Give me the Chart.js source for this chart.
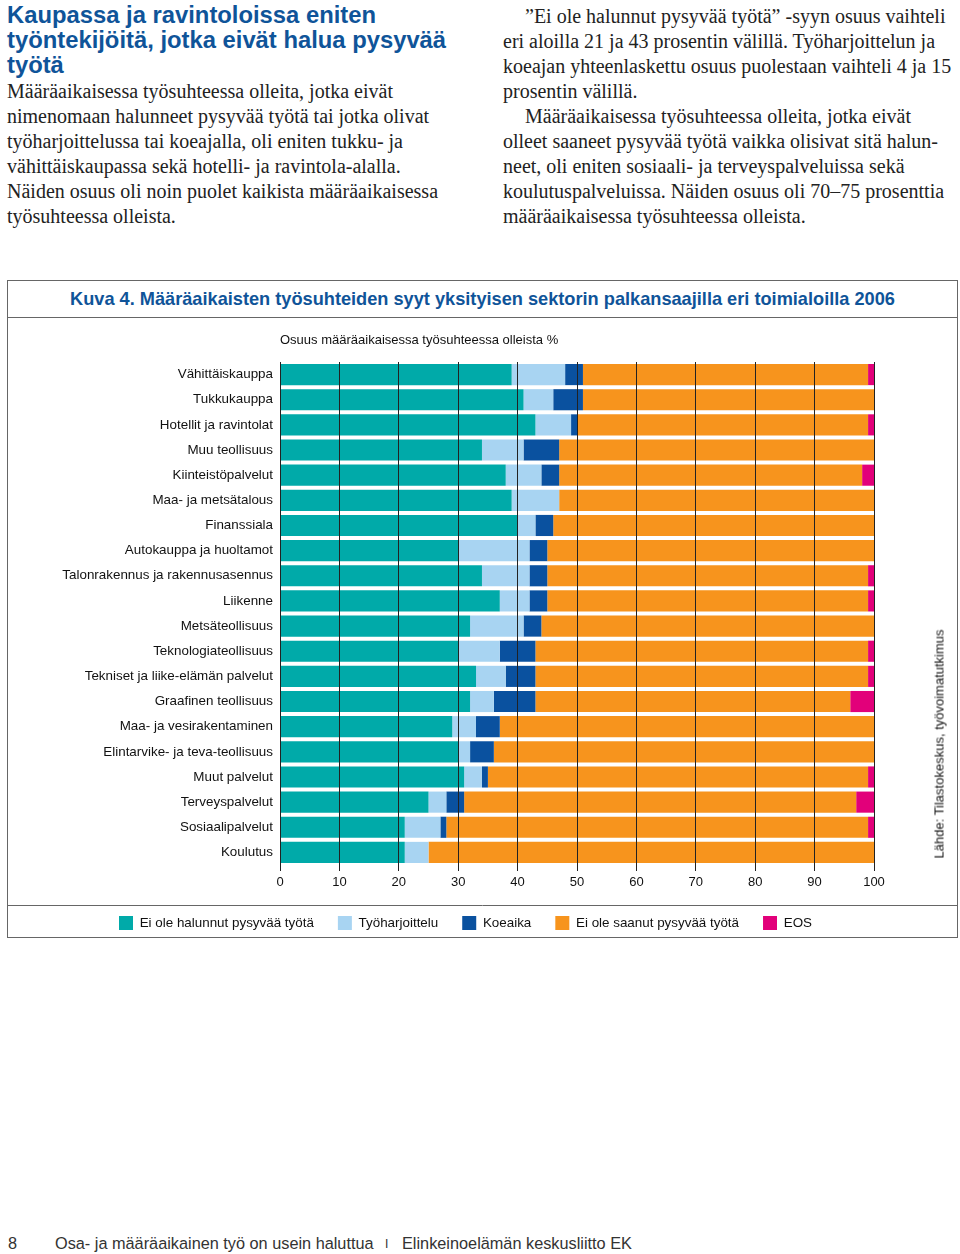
<!DOCTYPE html>
<html lang="fi">
<head>
<meta charset="utf-8">
<title>Kuva 4</title>
<script src="https://cdn.jsdelivr.net/npm/chart.js@4/dist/chart.umd.min.js"></script>
<style>
  body { margin: 0; width: 960px; height: 1254px; background: #fff; position: relative;
         font-family: "Liberation Sans", Arial, sans-serif; color: #222; }
  .otsikko { position: absolute; left: 7px; top: 2px; width: 480px; font-weight: bold;
             font-size: 23.8px; line-height: 25px; color: #0f5499; margin: 0; }
  .leipa { position: absolute; font-family: "Liberation Serif", "Times New Roman", serif;
           font-size: 20px; line-height: 25px; color: #222; margin: 0; white-space: nowrap; }
  .sisennys { display: inline-block; width: 22px; }
  .kehys { position: absolute; left: 7px; top: 280px; width: 951px; height: 658px;
           box-sizing: border-box; border: 1px solid #666; }
  .kuvaotsikko { height: 36px; border-bottom: 1px solid #666; text-align: center;
                 font-weight: bold; font-size: 18.2px; line-height: 36px; color: #0f5499; }
  .kaavio { position: relative; width: 949px; height: 622px; }
  .lahde { position: absolute; left: 939px; top: 744px; transform: translate(-50%, -50%) rotate(-90deg);
           font-size: 13px; white-space: nowrap; color: #111; }
  .ala { position: absolute; top: 1234px; font-size: 16.3px; color: #333; white-space: nowrap; }
</style>
</head>
<body>

<h1 class="otsikko">Kaupassa ja ravintoloissa eniten<br>työntekijöitä, jotka eivät halua pysyvää<br>työtä</h1>
<p class="leipa" style="left:7px; top:79px;">Määräaikaisessa työsuhteessa olleita, jotka eivät<br>nimenomaan halunneet pysyvää työtä tai jotka olivat<br>työharjoittelussa tai koeajalla, oli eniten tukku- ja<br>vähittäiskaupassa sekä hotelli- ja ravintola-alalla.<br>Näiden osuus oli noin puolet kaikista määräaikaisessa<br>työsuhteessa olleista.</p>
<p class="leipa" style="left:503px; top:4px;"><span class="sisennys"></span>”Ei ole halunnut pysyvää työtä” -syyn osuus vaihteli<br>eri aloilla 21 ja 43 prosentin välillä. Työharjoittelun ja<br>koeajan yhteenlaskettu osuus puolestaan vaihteli 4 ja 15<br>prosentin välillä.<br><span class="sisennys"></span>Määräaikaisessa työsuhteessa olleita, jotka eivät<br>olleet saaneet pysyvää työtä vaikka olisivat sitä halun-<br>neet, oli eniten sosiaali- ja terveyspalveluissa sekä<br>koulutuspalveluissa. Näiden osuus oli 70–75 prosenttia<br>määräaikaisessa työsuhteessa olleista.</p>

<div class="kehys">
  <div class="kuvaotsikko">Kuva 4. Määräaikaisten työsuhteiden syyt yksityisen sektorin palkansaajilla eri toimialoilla 2006</div>
  <div class="kaavio"><canvas id="syyt"></canvas></div>
</div>
<div class="lahde">Lähde: Tilastokeskus, työvoimatutkimus</div>

<div class="ala" style="left:8px;">8</div>
<div class="ala" style="left:55px;">Osa- ja määräaikainen työ on usein haluttua</div>
<div class="ala" style="left:385px; font-size:12px; top:1237px;">I</div>
<div class="ala" style="left:402px;">Elinkeinoelämän keskusliitto EK</div>

<script>
// Toimialat ylhäältä alas
const toimialat = [
  'Vähittäiskauppa', 'Tukkukauppa', 'Hotellit ja ravintolat', 'Muu teollisuus',
  'Kiinteistöpalvelut', 'Maa- ja metsätalous', 'Finanssiala', 'Autokauppa ja huoltamot',
  'Talonrakennus ja rakennusasennus', 'Liikenne', 'Metsäteollisuus', 'Teknologiateollisuus',
  'Tekniset ja liike-elämän palvelut', 'Graafinen teollisuus', 'Maa- ja vesirakentaminen',
  'Elintarvike- ja teva-teollisuus', 'Muut palvelut', 'Terveyspalvelut', 'Sosiaalipalvelut', 'Koulutus'
];

// Osuudet, % (luettu kuvasta)
const eiHalunnut     = [39, 41, 43, 34, 38, 39, 40, 30, 34, 37, 32, 30, 33, 32, 29, 30, 31, 25, 21, 21];
const tyoharjoittelu = [ 9,  5,  6,  7,  6,  8,  3, 12,  8,  5,  9,  7,  5,  4,  4,  2,  3,  3,  6,  4];
const koeaika        = [ 3,  5,  1,  6,  3,  0,  3,  3,  3,  3,  3,  6,  5,  7,  4,  4,  1,  3,  1,  0];
const eiSaanut       = [48, 49, 49, 53, 51, 53, 54, 55, 54, 54, 56, 56, 56, 53, 63, 64, 64, 66, 71, 75];
const eos            = [ 1,  0,  1,  0,  2,  0,  0,  0,  1,  1,  0,  1,  1,  4,  0,  0,  1,  3,  1,  0];

const xTikit = [0, 10, 20, 30, 40, 50, 60, 70, 80, 90, 100];

const sarjat = [
  { label: 'Ei ole halunnut pysyvää työtä', data: eiHalunnut, color: '#00aaa9' },
  { label: 'Työharjoittelu', data: tyoharjoittelu, color: '#a8d4f2' },
  { label: 'Koeaika', data: koeaika, color: '#0a519f' },
  { label: 'Ei ole saanut pysyvää työtä', data: eiSaanut, color: '#f7941d' },
  { label: 'EOS', data: eos, color: '#e2007a' }
];

const fontti = '"Liberation Sans", Arial, sans-serif';

// Akselin otsikko ylös ja viiva selitteen yläpuolelle
const lisat = {
  id: 'lisat',
  afterDraw(chart) {
    const { ctx, chartArea, legend } = chart;
    ctx.save();
    ctx.font = '13px ' + fontti;
    ctx.fillStyle = '#111';
    ctx.textBaseline = 'middle';
    ctx.fillText('Osuus määräaikaisessa työsuhteessa olleista %', chartArea.left, 22);
    ctx.strokeStyle = '#666';
    ctx.lineWidth = 1;
    const y = Math.round(legend.top) + 13.5;
    ctx.beginPath();
    ctx.moveTo(0, y);
    ctx.lineTo(chart.width, y);
    ctx.stroke();
    ctx.restore();
  }
};

new Chart(document.getElementById('syyt'), {
  type: 'bar',
  data: {
    labels: toimialat,
    datasets: sarjat.map(s => ({
      label: s.label,
      data: s.data,
      backgroundColor: s.color,
      borderWidth: 0,
      barPercentage: 0.84,
      categoryPercentage: 1
    }))
  },
  options: {
    indexAxis: 'y',
    responsive: true,
    maintainAspectRatio: false,
    animation: false,
    layout: { padding: { top: 44, right: 34, left: 0, bottom: 0 } },
    scales: {
      x: {
        stacked: true,
        min: 0,
        max: 100,
        afterBuildTicks: scale => { scale.ticks = xTikit.map(v => ({ value: v })); },
        afterFit: scale => { scale.height = 27; },
        grid: { color: '#222', lineWidth: 1, z: 1, drawTicks: true, tickLength: 6 },
        border: { display: false },
        ticks: { color: '#111', padding: 4, font: { size: 13, family: fontti } }
      },
      y: {
        stacked: true,
        afterFit: scale => { scale.width = 272; },
        grid: { display: false, drawTicks: false },
        border: { display: false },
        ticks: { color: '#111', padding: 7, font: { size: 13.4, family: fontti } }
      },
      // tyhjä tila oikealla (lähdeteksti)
      oikea: {
        position: 'right',
        afterFit: scale => { scale.width = 49; },
        grid: { display: false, drawTicks: false },
        border: { display: false },
        ticks: { display: false }
      }
    },
    plugins: {
      legend: {
        position: 'bottom',
        labels: {
          boxWidth: 14,
          boxHeight: 14,
          padding: 24,
          color: '#111',
          font: { size: 13.4, family: fontti }
        }
      },
      tooltip: { enabled: false }
    }
  },
  plugins: [lisat]
});
</script>
</body>
</html>
